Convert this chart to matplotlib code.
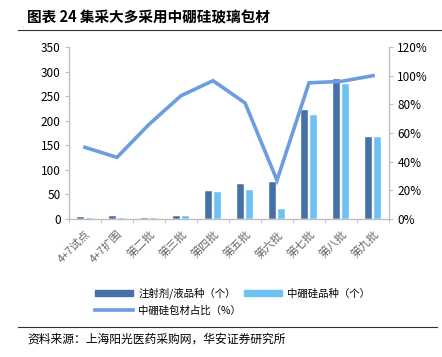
import numpy as np
import matplotlib
matplotlib.use("Agg")
import matplotlib.pyplot as plt
from matplotlib.lines import Line2D
from matplotlib.patches import Patch

plt.rcParams['font.family'] = ['Noto Sans CJK SC', 'DejaVu Sans']

categories = ['4+7试点', '4+7扩围', '第二批', '第三批', '第四批', '第五批', '第六批', '第七批', '第八批', '第九批']
injection_count = [4, 7, 3, 7, 57, 72, 75, 222, 285, 167]
borosilicate_count = [2, 2, 2, 6, 55, 59, 20, 211, 274, 167]
borosilicate_share = [50, 43, 66, 86, 96.5, 81, 27, 95, 96, 100]

dark = '#4670A8'
light = '#6EC1F3'
line_c = '#6C9EDF'
axis_c = '#BFBFBF'

W, H = 442, 357
fig = plt.figure(figsize=(W / 100, H / 100), dpi=100)

ax = fig.add_axes([69 / W, (H - 219) / H, 320 / W, 172 / H])
ax2 = ax.twinx()

x = np.arange(len(categories))
bw = 0.24
ax.bar(x - bw / 2 - 0.02, injection_count, bw, color=dark, edgecolor='white', linewidth=0.3, zorder=2)
ax.bar(x + bw / 2 + 0.02, borosilicate_count, bw, color=light, edgecolor='white', linewidth=0.3, zorder=2)
ax2.plot(x, borosilicate_share, color=line_c, lw=2.6, solid_joinstyle='miter', zorder=3)

ax.set_xlim(-0.5, len(categories) - 0.5)
ax.set_ylim(0, 350)
ax.set_yticks(np.arange(0, 351, 50))
ax2.set_ylim(0, 120)
ax2.set_yticks(np.arange(0, 121, 20))
ax2.set_yticklabels([f'{v}%' for v in range(0, 121, 20)])

ax.set_xticks(x)
ax.set_xticklabels(categories, rotation=45, ha='right', rotation_mode='anchor',
                   fontsize=8, color='#666666')
ax.set_xticks(np.arange(-0.5, len(categories), 1), minor=True)
ax.tick_params(axis='x', which='major', length=0, pad=7)
ax.tick_params(axis='x', which='minor', length=3, color=axis_c, direction='out')

for a in (ax, ax2):
    for s in a.spines.values():
        s.set_visible(False)
ax.spines['bottom'].set_visible(True)
ax.spines['left'].set_visible(True)
ax2.spines['right'].set_visible(True)
for s in (ax.spines['bottom'], ax.spines['left'], ax2.spines['right']):
    s.set_color(axis_c)
    s.set_linewidth(1)

ax.tick_params(axis='y', length=3, color=axis_c, labelsize=8.5, pad=3)
ax2.tick_params(axis='y', length=3, color=axis_c, labelsize=8.5, pad=3)

# legend: column-major fill, so line goes second to land on row 2
handles = [Patch(color=dark), Line2D([], [], color=line_c, lw=2.6), Patch(color=light)]
labels = ['注射剂/液品种（个）', '中硼硅包材占比（%）', '中硼硅品种（个）']
fig.legend(handles, labels, ncol=2, frameon=False, fontsize=7.5,
           loc='upper left', bbox_to_anchor=(86 / W, 1 - 278 / H),
           handlelength=3.6, handleheight=0.5, columnspacing=0.3,
           labelspacing=0.6, handletextpad=0.5)

fig.text(27 / W, 1 - 17 / H, '图表 24 集采大多采用中硼硅玻璃包材', fontsize=10.5,
         fontweight='bold', va='center', ha='left')
fig.add_artist(Line2D([18 / W, 1.0], [1 - 30 / H] * 2, color='#333333', lw=0.8))
fig.add_artist(Line2D([18 / W, 437 / W], [1 - 327 / H] * 2, color='#333333', lw=0.8))
fig.text(27 / W, 1 - 339 / H, '资料来源：上海阳光医药采购网，华安证券研究所', fontsize=8.5,
         va='center', ha='left')

fig.savefig('out.png', dpi=100)
